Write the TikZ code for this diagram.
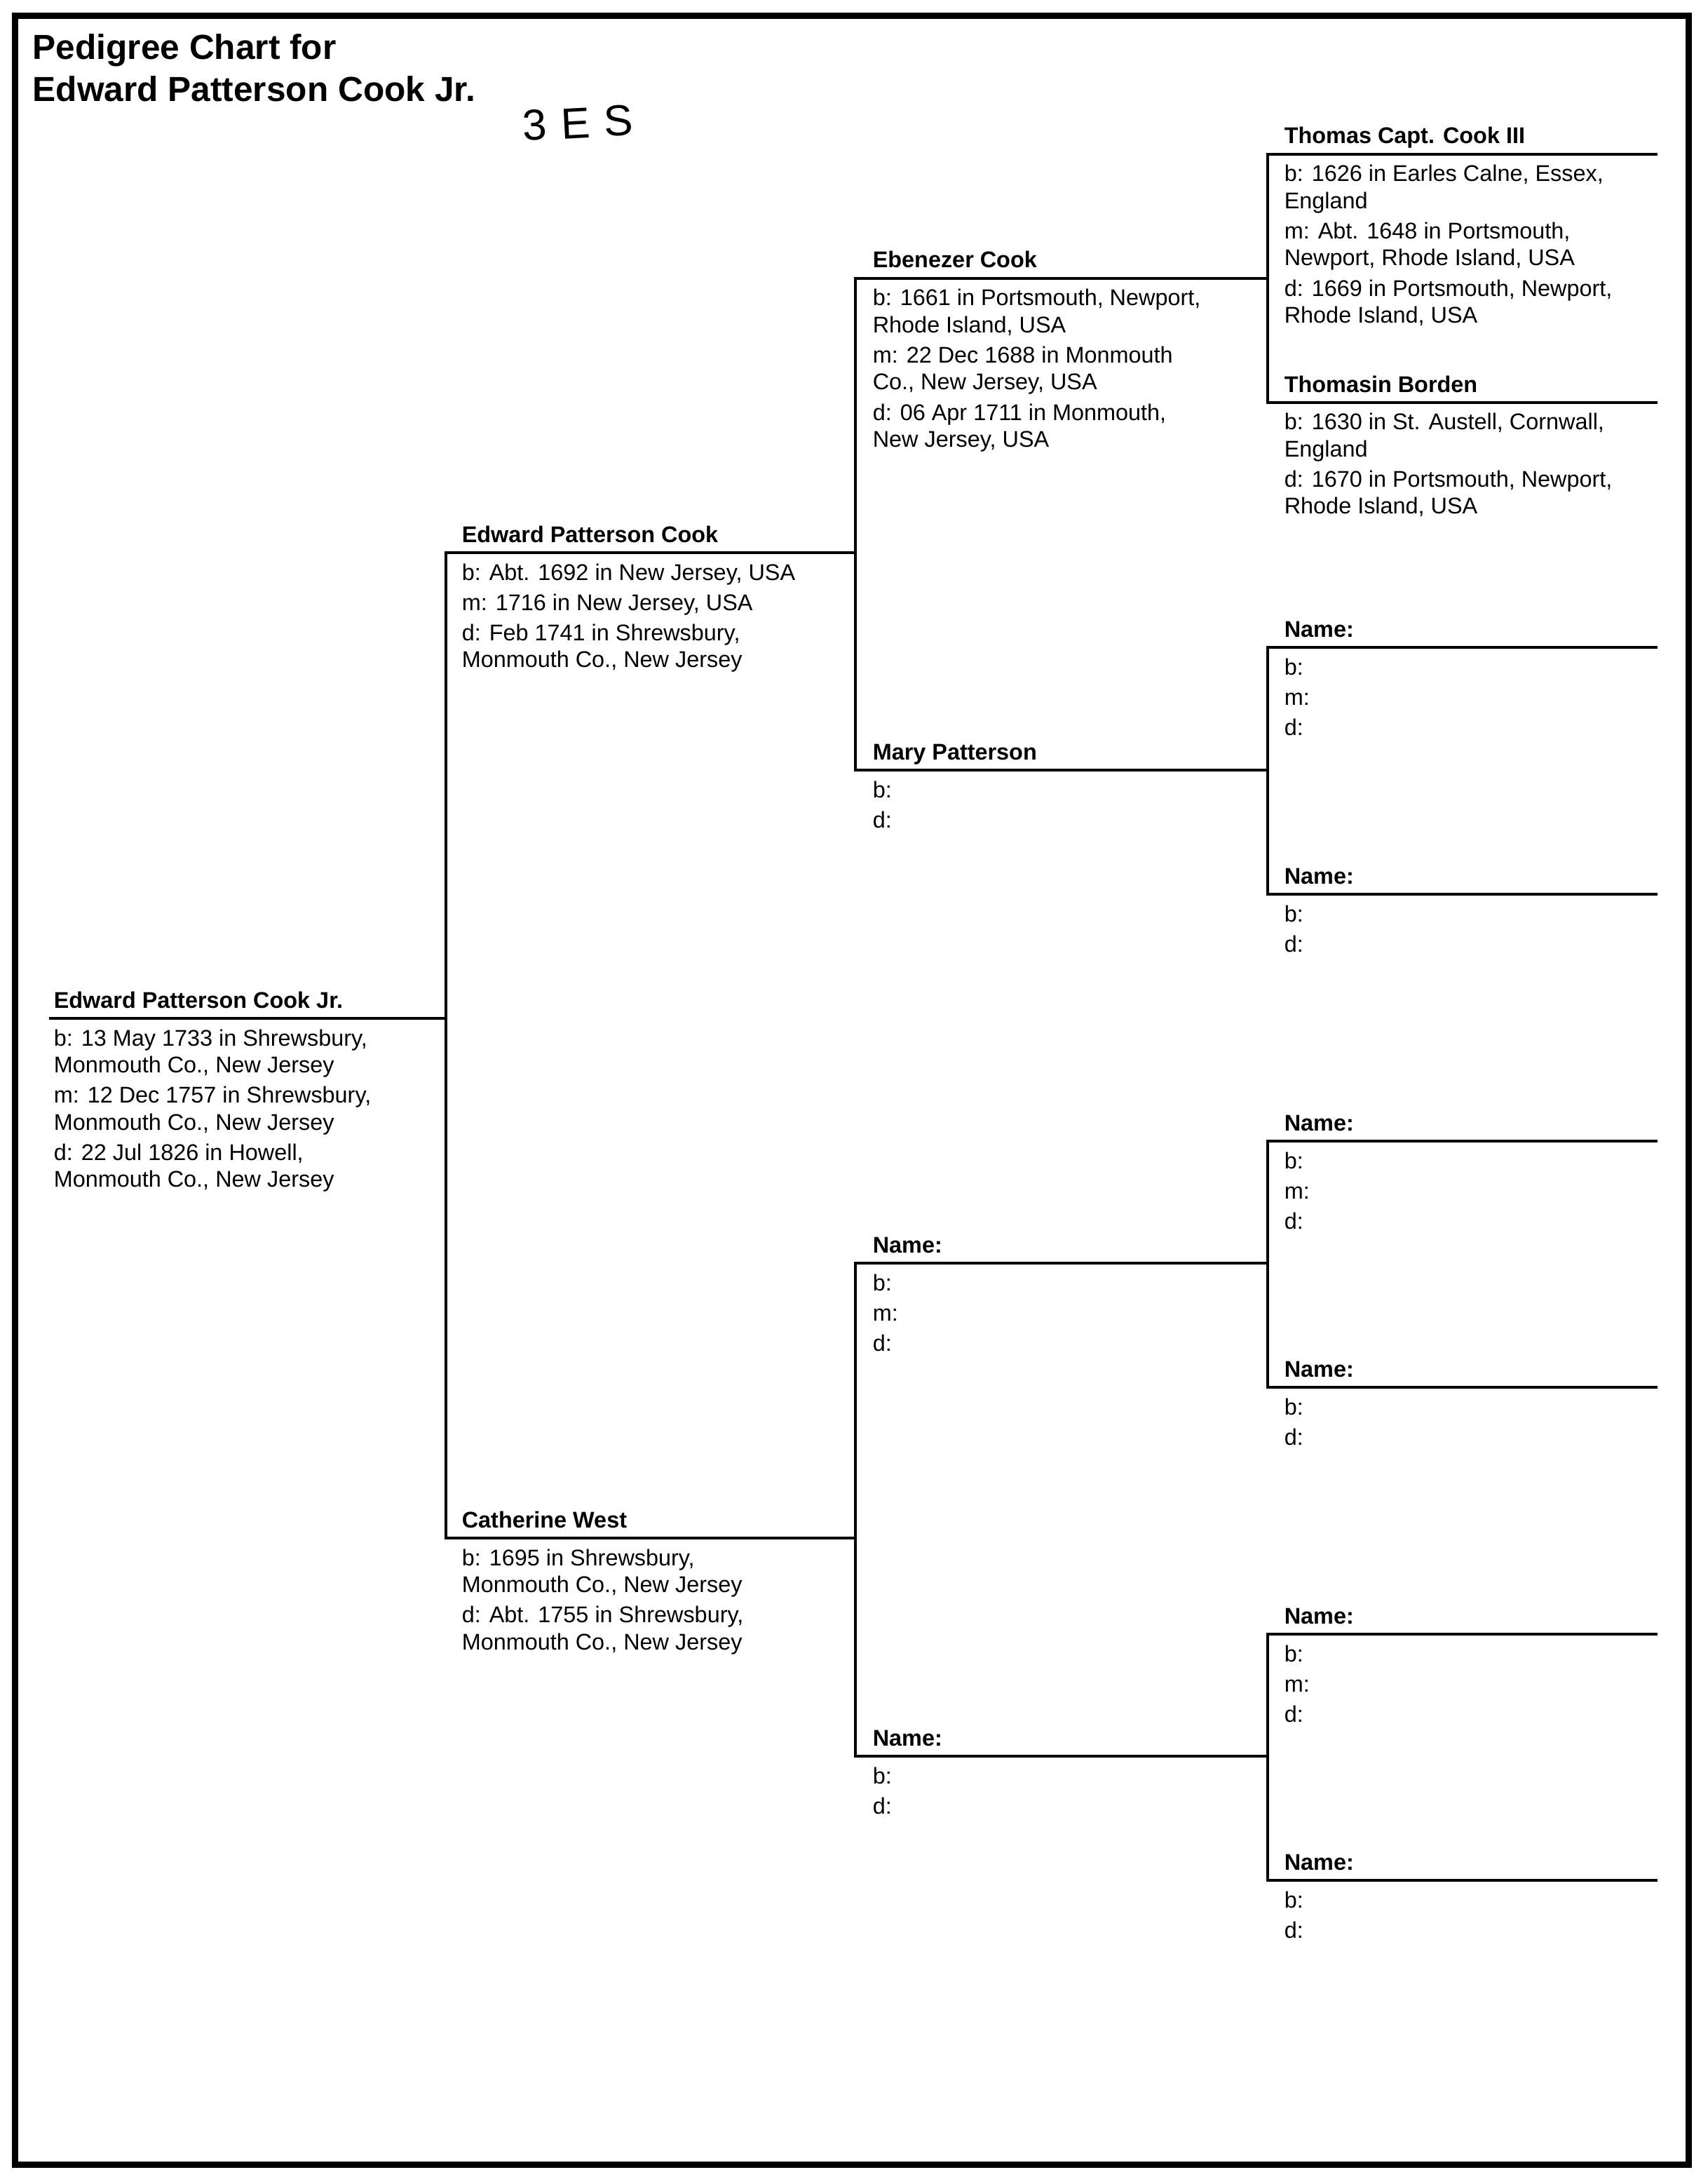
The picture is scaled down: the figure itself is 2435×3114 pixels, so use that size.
\documentclass[tikz,border=0pt]{standalone}
\usepackage{fontspec}
\setmainfont{Liberation Sans}
\newcommand\dl[1]{\hbox{#1}}
\newcommand\ig{\vskip1.2pt}
\newcommand\dbox[1]{\vtop{\baselineskip=9.6pt\relax #1}}
\tikzset{
  conn/.style={line width=1pt, line cap=rect},
  frameline/.style={line width=2.25pt},
  pname/.style={font=\bfseries\fontsize{8.1}{9.6}\selectfont, anchor=base west, inner sep=0pt},
  pdet/.style={font=\fontsize{8.1}{9.6}\selectfont, anchor=base west, inner sep=0pt},
  titlestyle/.style={font=\bfseries\fontsize{12.4}{15}\selectfont, anchor=base west, inner sep=0pt},
}
% id, text x, line y, line x1, line x2, name, details
\newcommand\person[7]{%
  \coordinate (#1-l) at (#4,#3);
  \coordinate (#1-r) at (#5,#3);
  \draw[conn] (#1-l) -- (#1-r);
  \node[pname] (#1) at (#2,#3-15) {#6};
  \node[pdet] (#1-d) at (#2,#3+39) {\dbox{#7}};
}
\begin{document}
\begin{tikzpicture}[x=0.25pt, y=-0.25pt]
\useasboundingbox (0,0) rectangle (2435,3114);
\fill[white] (0,0) rectangle (2435,3114);
\draw[frameline] (21,23) rectangle (2408,3086);

\node[titlestyle] (title) at (46,85) {\vtop{\baselineskip=15pt\relax\dl{Pedigree Chart for}\dl{Edward Patterson Cook Jr.}}};
\node[font=\fontsize{15.5}{16}\selectfont, anchor=base west, inner sep=0pt, rotate=3] (mark) at (746,201) {3\hspace{5pt}E\hspace{5pt}S};

% generation 1
\person{g1}{76}{1452}{72}{636}{Edward Patterson Cook Jr.}{%
  \dl{b: 13 May 1733 in Shrewsbury,}\dl{Monmouth Co., New Jersey}\ig
  \dl{m: 12 Dec 1757 in Shrewsbury,}\dl{Monmouth Co., New Jersey}\ig
  \dl{d: 22 Jul 1826 in Howell,}\dl{Monmouth Co., New Jersey}}

% generation 2
\person{g2a}{658}{788}{636}{1220}{Edward Patterson Cook}{%
  \dl{b: Abt. 1692 in New Jersey, USA}\ig
  \dl{m: 1716 in New Jersey, USA}\ig
  \dl{d: Feb 1741 in Shrewsbury,}\dl{Monmouth Co., New Jersey}}
\person{g2b}{658}{2193}{636}{1220}{Catherine West}{%
  \dl{b: 1695 in Shrewsbury,}\dl{Monmouth Co., New Jersey}\ig
  \dl{d: Abt. 1755 in Shrewsbury,}\dl{Monmouth Co., New Jersey}}
\draw[conn] (g2a-l) -- (g2b-l);

% generation 3
\person{g3a}{1244}{397}{1220}{1808}{Ebenezer Cook}{%
  \dl{b: 1661 in Portsmouth, Newport,}\dl{Rhode Island, USA}\ig
  \dl{m: 22 Dec 1688 in Monmouth}\dl{Co., New Jersey, USA}\ig
  \dl{d: 06 Apr 1711 in Monmouth,}\dl{New Jersey, USA}}
\person{g3b}{1244}{1098}{1220}{1808}{Mary Patterson}{%
  \dl{b:}\ig\dl{d:}}
\person{g3c}{1244}{1801}{1220}{1808}{Name:}{%
  \dl{b:}\ig\dl{m:}\ig\dl{d:}}
\person{g3d}{1244}{2504}{1220}{1808}{Name:}{%
  \dl{b:}\ig\dl{d:}}
\draw[conn] (g3a-l) -- (g3b-l);
\draw[conn] (g3c-l) -- (g3d-l);

% generation 4
\person{g4a}{1831}{220}{1808}{2362}{Thomas Capt. Cook III}{%
  \dl{b: 1626 in Earles Calne, Essex,}\dl{England}\ig
  \dl{m: Abt. 1648 in Portsmouth,}\dl{Newport, Rhode Island, USA}\ig
  \dl{d: 1669 in Portsmouth, Newport,}\dl{Rhode Island, USA}}
\person{g4b}{1831}{574}{1808}{2362}{Thomasin Borden}{%
  \dl{b: 1630 in St. Austell, Cornwall,}\dl{England}\ig
  \dl{d: 1670 in Portsmouth, Newport,}\dl{Rhode Island, USA}}
\person{g4c}{1831}{923}{1808}{2362}{Name:}{%
  \dl{b:}\ig\dl{m:}\ig\dl{d:}}
\person{g4d}{1831}{1275}{1808}{2362}{Name:}{%
  \dl{b:}\ig\dl{d:}}
\person{g4e}{1831}{1627}{1808}{2362}{Name:}{%
  \dl{b:}\ig\dl{m:}\ig\dl{d:}}
\person{g4f}{1831}{1978}{1808}{2362}{Name:}{%
  \dl{b:}\ig\dl{d:}}
\person{g4g}{1831}{2330}{1808}{2362}{Name:}{%
  \dl{b:}\ig\dl{m:}\ig\dl{d:}}
\person{g4h}{1831}{2681}{1808}{2362}{Name:}{%
  \dl{b:}\ig\dl{d:}}
\draw[conn] (g4a-l) -- (g4b-l);
\draw[conn] (g4c-l) -- (g4d-l);
\draw[conn] (g4e-l) -- (g4f-l);
\draw[conn] (g4g-l) -- (g4h-l);
\end{tikzpicture}
\end{document}
